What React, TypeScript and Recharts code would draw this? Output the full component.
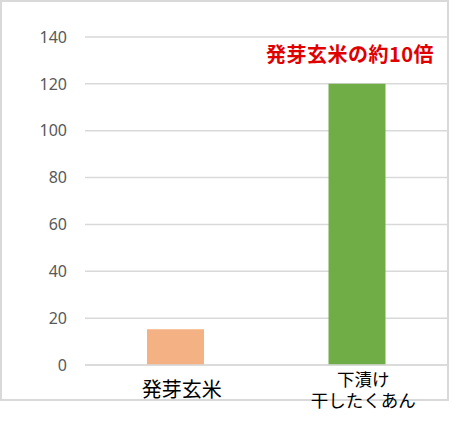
import React from 'react';
import { BarChart, Bar, XAxis, YAxis, CartesianGrid, Cell, LabelList } from 'recharts';

const categories = ['発芽玄米', '下漬け\n干したくあん'];
const values = [15.3, 120];
const barColors = ['#f4b183', '#70ad47'];
const notes = ['', '発芽玄米の約10倍'];
const yTicks = [0, 20, 40, 60, 80, 100, 120, 140];

const data = categories.map((name, i) => ({ name, value: values[i], note: notes[i] }));

const CategoryTick = (props: any) => {
  const { x, y, payload } = props;
  const lines: string[] = String(payload.value).split('\n');
  const n = lines.length;
  const fs = n === 1 ? 20 : 17.5;
  const lh = 21;
  const cx = x + 6;
  const firstBaseline = y + 17 - ((n - 1) * lh) / 2 + 0.35 * fs;
  return (
    <text
      x={cx}
      y={firstBaseline}
      textAnchor="middle"
      fill="#000000"
      fontSize={fs}
      fontFamily="'Noto Sans CJK JP', sans-serif"
    >
      {lines.map((ln, i) => (
        <tspan key={i} x={cx} dy={i === 0 ? 0 : lh}>
          {ln}
        </tspan>
      ))}
    </text>
  );
};

const NoteLabel = (props: any) => {
  const { x, y, width, value } = props;
  if (!value) return null;
  return (
    <text
      x={x + width / 2 - 7}
      y={y - 22}
      textAnchor="middle"
      fill="#e00000"
      fontSize={20}
      fontWeight="bold"
      letterSpacing={0.5}
      fontFamily="'Noto Sans CJK JP', sans-serif"
    >
      {value}
    </text>
  );
};

export default function App() {
  return (
    <div style={{ position: 'absolute', left: 0, top: 0, width: 475, height: 426, background: '#fff' }}>
      <div
        style={{
          position: 'absolute',
          left: 0,
          top: 0,
          width: 449,
          height: 401,
          boxSizing: 'border-box',
          border: '2px solid #d9d9d9',
        }}
      />
      <div style={{ position: 'absolute', left: 0, top: 0 }}>
        <BarChart
          width={475}
          height={426}
          data={data}
          margin={{ top: 37, right: 27, bottom: 21, left: 0 }}
        >
          <CartesianGrid vertical={false} stroke="#d9d9d9" strokeWidth={1.5} />
          <XAxis
            dataKey="name"
            tickLine={false}
            axisLine={{ stroke: '#d9d9d9', strokeWidth: 1.5 }}
            height={40}
            interval={0}
            tick={<CategoryTick />}
          />
          <YAxis
            domain={[0, 140]}
            ticks={yTicks}
            width={85}
            tickLine={false}
            axisLine={false}
            tickMargin={12}
            tick={{ fill: '#595959', fontSize: 16, fontFamily: "'Noto Sans', sans-serif" }}
          />
          <Bar dataKey="value" barSize={57} isAnimationActive={false}>
            {data.map((d, i) => (
              <Cell key={i} fill={barColors[i]} />
            ))}
            <LabelList dataKey="note" content={<NoteLabel />} />
          </Bar>
        </BarChart>
      </div>
    </div>
  );
}
